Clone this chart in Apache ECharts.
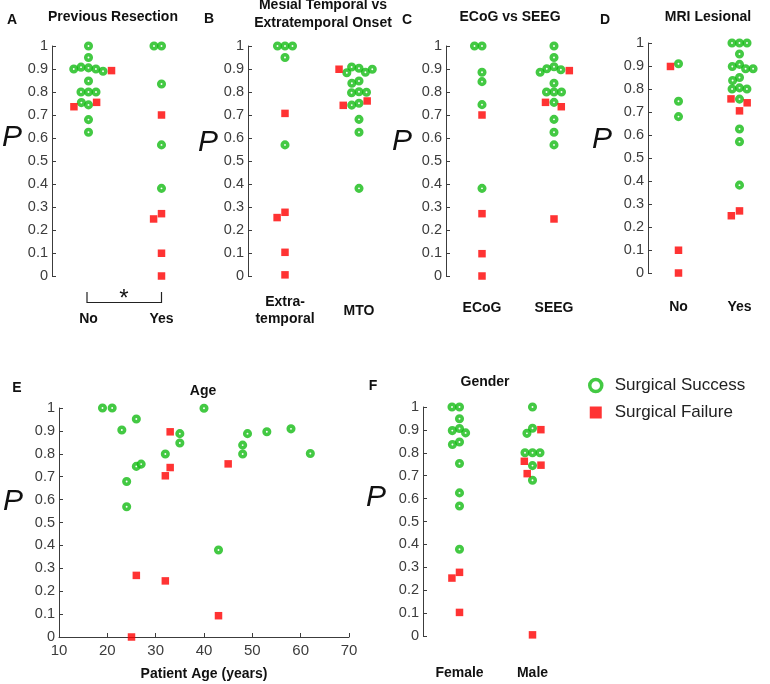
<!DOCTYPE html>
<html><head><meta charset="utf-8">
<script src="https://cdn.jsdelivr.net/npm/echarts@6/dist/echarts.min.js"></script>
<style>html,body{margin:0;padding:0;background:#fff}#c{width:770px;height:684px}</style>
</head><body><div id="c"></div><script>
// ---------- DATA ----------
// Panel A: Previous Resection
const catsA = ['No', 'Yes'];
const aNoSuccess  = [0.905, 1.0, 0.95, 0.908, 0.90, 0.90, 0.89, 0.848, 0.80, 0.80, 0.80, 0.744, 0.754, 0.68, 0.625];
const aNoFailure  = [0.893, 0.755, 0.736];
const aYesSuccess = [1.0, 1.0, 0.835, 0.57, 0.381];
const aYesFailure = [0.70, 0.271, 0.248, 0.099, 0.0];
// Panel B: Mesial Temporal vs Extratemporal Onset
const catsB = ['Extra-\ntemporal', 'MTO'];
const bExtraSuccess = [1.0, 1.0, 1.0, 0.95, 0.57];
const bExtraFailure = [0.707, 0.277, 0.254, 0.103, 0.005];
const bMtoSuccess   = [0.903, 0.909, 0.886, 0.899, 0.884, 0.848, 0.838, 0.801, 0.797, 0.799, 0.751, 0.743, 0.681, 0.625, 0.381];
const bMtoFailure   = [0.899, 0.761, 0.742];
// Panel C: ECoG vs SEEG
const catsC = ['ECoG', 'SEEG'];
const cEcogSuccess = [1.0, 1.0, 0.886, 0.845, 0.745, 0.381];
const cEcogFailure = [0.70, 0.271, 0.097, 0.0];
const cSeegSuccess = [1.0, 0.95, 0.91, 0.901, 0.897, 0.886, 0.838, 0.80, 0.80, 0.80, 0.755, 0.681, 0.625, 0.57];
const cSeegFailure = [0.893, 0.755, 0.736, 0.248];
// Panel D: MRI Lesional
const catsD = ['No', 'Yes'];
const dNoSuccess  = [0.91, 0.747, 0.68];
const dNoFailure  = [0.898, 0.099, 0.0];
const dYesSuccess = [1.0, 1.0, 1.0, 0.952, 0.907, 0.898, 0.888, 0.888, 0.85, 0.837, 0.805, 0.80, 0.80, 0.756, 0.626, 0.571, 0.382];
const dYesFailure = [0.757, 0.74, 0.705, 0.27, 0.249];
// Panel E: Age
const eSuccessAge = [19, 21, 23, 26, 24, 24, 26, 27, 32, 35, 35, 40, 43, 48, 48, 49, 53, 58, 62];
const eSuccessP   = [1.0, 1.0, 0.904, 0.952, 0.679, 0.569, 0.745, 0.755, 0.799, 0.888, 0.847, 0.999, 0.38, 0.838, 0.799, 0.888, 0.896, 0.909, 0.801];
const eFailureAge = [33, 32, 33, 45, 26, 32, 43, 25];
const eFailureP   = [0.896, 0.704, 0.74, 0.756, 0.269, 0.245, 0.093, 0.0];
// Panel F: Gender
const catsF = ['Female', 'Male'];
const fFemaleSuccess = [1.0, 1.0, 0.949, 0.906, 0.897, 0.887, 0.847, 0.836, 0.753, 0.625, 0.568, 0.379];
const fFemaleFailure = [0.278, 0.253, 0.103];
const fMaleSuccess   = [1.0, 0.907, 0.885, 0.80, 0.80, 0.80, 0.744, 0.68];
const fMaleFailure   = [0.901, 0.763, 0.746, 0.709, 0.005];
const yTicksMax = 1, yTicksStep = 0.1;

// ---------- STYLE ----------
const FONT = '"Liberation Sans", Arial, sans-serif';
const GREEN = '#14bb14', RED = '#ff0000', AX = '#3c3c3c';
const SUCC = 'Surgical Success', FAIL = 'Surgical Failure';

const grids = [
  {left: 52, top: 46, width: 146, height: 230},    // A
  {left: 248, top: 46, width: 148, height: 230},   // B
  {left: 446, top: 46, width: 144, height: 230},   // C
  {left: 648, top: 43, width: 146, height: 230},   // D
  {left: 59, top: 408, width: 290, height: 229},   // E
  {left: 423, top: 407, width: 146, height: 229}   // F
];

function yAxis(gi) {
  return {
    type: 'value', gridIndex: gi, min: 0, max: yTicksMax, interval: yTicksStep,
    axisLine: {show: true, lineStyle: {color: AX, width: 1}},
    axisTick: {show: true, inside: true, length: 4, lineStyle: {color: AX}},
    axisLabel: {fontSize: 14.5, color: AX, margin: 4, fontFamily: FONT},
    splitLine: {show: false}
  };
}
function catAxis(gi, cats, margin) {
  return {
    type: 'category', gridIndex: gi, data: cats, boundaryGap: true,
    axisLine: {show: false}, axisTick: {show: false}, splitLine: {show: false},
    axisLabel: {fontSize: 14, fontWeight: 'bold', color: '#111', fontFamily: FONT,
      margin: margin, verticalAlign: 'middle', lineHeight: 17, interval: 0},
    jitter: 60, jitterOverlap: false, jitterMargin: 2
  };
}
const succStyle = {symbol: 'circle', symbolSize: 5.5,
  itemStyle: {color: '#ffffff', borderColor: GREEN, borderWidth: 3.6}};
const failStyle = {symbol: 'rect', symbolSize: 7.5, itemStyle: {color: RED}};

function catSeries(name, gi, cats, groups, style) {
  const data = [];
  groups.forEach((vals, i) => vals.forEach(v => data.push([cats[i], v])));
  return Object.assign({type: 'scatter', name, xAxisIndex: gi, yAxisIndex: gi, data,
    emphasis: {disabled: true}, silent: true}, style);
}

const series = [
  catSeries(SUCC, 0, catsA, [aNoSuccess, aYesSuccess], succStyle),
  catSeries(FAIL, 0, catsA, [aNoFailure, aYesFailure], failStyle),
  catSeries(SUCC, 1, catsB, [bExtraSuccess, bMtoSuccess], succStyle),
  catSeries(FAIL, 1, catsB, [bExtraFailure, bMtoFailure], failStyle),
  catSeries(SUCC, 2, catsC, [cEcogSuccess, cSeegSuccess], succStyle),
  catSeries(FAIL, 2, catsC, [cEcogFailure, cSeegFailure], failStyle),
  catSeries(SUCC, 3, catsD, [dNoSuccess, dYesSuccess], succStyle),
  catSeries(FAIL, 3, catsD, [dNoFailure, dYesFailure], failStyle),
  Object.assign({type: 'scatter', name: SUCC, xAxisIndex: 4, yAxisIndex: 4, silent: true,
    emphasis: {disabled: true}, data: eSuccessAge.map((a, i) => [a, eSuccessP[i]])}, succStyle),
  Object.assign({type: 'scatter', name: FAIL, xAxisIndex: 4, yAxisIndex: 4, silent: true,
    emphasis: {disabled: true}, data: eFailureAge.map((a, i) => [a, eFailureP[i]])}, failStyle),
  catSeries(SUCC, 5, catsF, [fFemaleSuccess, fMaleSuccess], succStyle),
  catSeries(FAIL, 5, catsF, [fFemaleFailure, fMaleFailure], failStyle)
];

function txt(text, x, y, font, extra) {
  return {type: 'text', x, y, silent: true,
    style: Object.assign({text, font, fill: '#111', align: 'center', verticalAlign: 'middle'}, extra || {})};
}
const BOLD14 = 'bold 14px ' + FONT;
const PFONT = 'italic 30px ' + FONT;
const graphic = [
  txt('A', 12, 20, BOLD14), txt('B', 209, 19, BOLD14), txt('C', 407, 20, BOLD14),
  txt('D', 605, 20, BOLD14), txt('E', 17, 388, BOLD14), txt('F', 373, 386, BOLD14),
  txt('Previous Resection', 113, 17, BOLD14),
  txt('Mesial Temporal vs\nExtratemporal Onset', 323, 14, BOLD14, {lineHeight: 18}),
  txt('ECoG vs SEEG', 510, 17, BOLD14),
  txt('MRI Lesional', 708, 17, BOLD14),
  txt('Age', 203, 391, BOLD14),
  txt('Gender', 485, 382, BOLD14),
  txt('P', 12, 138, PFONT), txt('P', 208, 143, PFONT), txt('P', 402, 142, PFONT),
  txt('P', 602, 140, PFONT), txt('P', 13, 502, PFONT), txt('P', 376, 498, PFONT),
  {type: 'polyline', silent: true, shape: {points: [[87, 292], [87, 302.5], [161.5, 302.5], [161.5, 292]]},
   style: {stroke: '#222', lineWidth: 1.2, fill: null}},
  txt('*', 124, 299, '24px ' + FONT)
];

const option = {
  animation: false,
  backgroundColor: '#fff',
  grid: grids,
  xAxis: [
    catAxis(0, catsA, 43), catAxis(1, catsB, 35), catAxis(2, catsC, 32), catAxis(3, catsD, 34),
    {type: 'value', gridIndex: 4, min: 10, max: 70, interval: 10,
     axisLine: {show: true, lineStyle: {color: AX}},
     axisTick: {show: true, inside: true, length: 4, lineStyle: {color: AX}},
     axisLabel: {fontSize: 15, color: AX, margin: 6, fontFamily: FONT},
     splitLine: {show: false},
     name: 'Patient Age (years)', nameLocation: 'middle', nameGap: 30,
     nameTextStyle: {fontSize: 14, fontWeight: 'bold', color: '#111', fontFamily: FONT}},
    catAxis(5, catsF, 37)
  ],
  yAxis: [yAxis(0), yAxis(1), yAxis(2), yAxis(3), yAxis(4), yAxis(5)],
  legend: {
    left: 583, top: 372, orient: 'vertical', itemGap: 10, itemWidth: 28, itemHeight: 12,
    selectedMode: false,
    textStyle: {fontSize: 17, color: '#222', fontFamily: FONT},
    data: [
      {name: SUCC, icon: 'circle', itemStyle: {color: '#fff', borderColor: GREEN, borderWidth: 3.5}},
      {name: FAIL, icon: 'path://M0,0H10V10H0Z', itemStyle: {color: RED, borderWidth: 0}}
    ]
  },
  series,
  graphic
};
const chart = echarts.init(document.getElementById('c'), null, {renderer: 'canvas'});
chart.setOption(option);
</script></body></html>
